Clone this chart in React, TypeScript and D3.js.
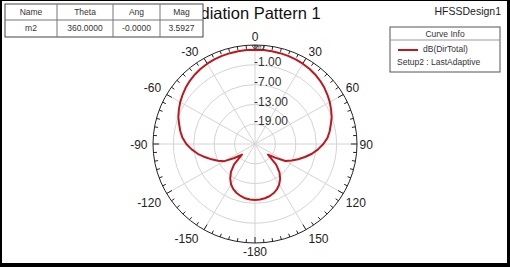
// App.tsx
import React, { useEffect, useRef } from 'react';
import * as d3 from 'd3';

const thetaDeg = [
  -180, -175, -170, -165, -160, -155, -150, -145, -140, -135, -130, -125, -120, -115, -110, -105, -100, -95,
  -90, -85, -80, -75, -70, -65, -60, -55, -50, -45, -40, -35, -30, -25, -20, -15, -10, -5,
  0, 5, 10, 15, 20, 25, 30, 35, 40, 45, 50, 55, 60, 65, 70, 75, 80, 85,
  90, 95, 100, 105, 110, 115, 120, 125, 130, 135, 140, 145, 150, 155, 160, 165, 170, 175, 180,
];

const dirTotalDb = [
  -8.0, -8.1, -8.3, -8.7, -9.2, -9.9, -10.9, -12.3, -14.0, -16.3, -20.0, -17.6, -14.6, -13.0, -11.4, -9.7, -7.9, -6.3,
  -4.8, -3.6, -2.7, -1.9, -1.0, -0.3, 0.4, 1.0, 1.6, 2.1, 2.5, 2.85, 3.1, 3.3, 3.42, 3.5, 3.55, 3.58,
  3.59, 3.58, 3.55, 3.5, 3.42, 3.3, 3.1, 2.85, 2.5, 2.1, 1.6, 1.0, 0.4, -0.3, -1.0, -1.9, -2.7, -3.6,
  -4.9, -6.4, -8.0, -9.8, -11.5, -13.1, -14.7, -17.8, -20.0, -16.2, -13.8, -12.1, -10.8, -9.8, -9.1, -8.6, -8.3, -8.1, -8.0,
];

const radialTicks = [-19, -13, -7, -1];
const angleTicks = [0, 30, 60, 90, 120, 150, 180, -150, -120, -90, -60, -30];
const angleLabels = ['0', '30', '60', '90', '120', '150', '-180', '-150', '-120', '-90', '-60', '-30'];

const tableHead = ['Name', 'Theta', 'Ang', 'Mag'];
const tableRow = ['m2', '360.0000', '-0.0000', '3.5927'];

const W = 510;
const H = 267;
const FONT = 'Liberation Sans, Arial, sans-serif';
const RED = '#c0171c';

const App: React.FC = () => {
  const svgRef = useRef<SVGSVGElement | null>(null);

  useEffect(() => {
    if (!svgRef.current) return;
    const svg = d3.select(svgRef.current);
    svg.selectAll('*').remove();

    const cx = 255;
    const cy = 144;
    const rx = 102;
    const ry = 99;

    const r = d3.scaleLinear().domain([-25, 5]).range([0, 1]);
    const px = (deg: number, n: number) => cx + rx * n * Math.sin((deg * Math.PI) / 180);
    const py = (deg: number, n: number) => cy - ry * n * Math.cos((deg * Math.PI) / 180);

    svg.append('rect').attr('width', W).attr('height', H).attr('fill', '#fff');

    // title sits behind the marker table, like the HFSS plot
    svg
      .append('text')
      .attr('x', 250)
      .attr('y', 19)
      .attr('text-anchor', 'middle')
      .attr('font-size', 16.5)
      .attr('fill', '#111')
      .text('Radiation Pattern 1');

    svg
      .append('text')
      .attr('x', 501)
      .attr('y', 15)
      .attr('text-anchor', 'end')
      .attr('font-size', 10.5)
      .attr('fill', '#222')
      .text('HFSSDesign1');

    // grid
    const grid = svg.append('g');
    radialTicks.forEach((v) => {
      grid
        .append('ellipse')
        .attr('cx', cx)
        .attr('cy', cy)
        .attr('rx', rx * r(v))
        .attr('ry', ry * r(v))
        .attr('fill', 'none')
        .attr('stroke', '#d4d4d4')
        .attr('stroke-width', 1);
    });
    angleTicks.forEach((a) => {
      grid
        .append('line')
        .attr('x1', cx)
        .attr('y1', cy)
        .attr('x2', px(a, 1))
        .attr('y2', py(a, 1))
        .attr('stroke', '#d4d4d4')
        .attr('stroke-width', 1);
    });

    // outer ring + ticks
    grid
      .append('ellipse')
      .attr('cx', cx)
      .attr('cy', cy)
      .attr('rx', rx)
      .attr('ry', ry)
      .attr('fill', 'none')
      .attr('stroke', '#222')
      .attr('stroke-width', 1);
    d3.range(0, 360, 5).forEach((a) => {
      const len = a % 30 === 0 ? 0.06 : 0.035;
      grid
        .append('line')
        .attr('x1', px(a, 1))
        .attr('y1', py(a, 1))
        .attr('x2', px(a, 1 - len))
        .attr('y2', py(a, 1 - len))
        .attr('stroke', '#222')
        .attr('stroke-width', 1);
    });

    // angle labels: hang off the ring, left side right-aligned
    angleTicks.forEach((a, i) => {
      const s = Math.sin((a * Math.PI) / 180);
      const c = Math.cos((a * Math.PI) / 180);
      let anchor = 'middle';
      let x = px(a, 1);
      if (s > 0.1) {
        anchor = 'start';
        x += 2.5;
      } else if (s < -0.1) {
        anchor = 'end';
        x -= 5.5;
      }
      let dy = c > 0.1 ? -6.5 : c < -0.1 ? 9 : 1;
      if (a === 0) dy = -8;
      svg
        .append('text')
        .attr('x', x)
        .attr('y', py(a, 1) + dy)
        .attr('dy', '0.35em')
        .attr('text-anchor', anchor)
        .attr('font-size', 12)
        .attr('fill', '#222')
        .text(angleLabels[i]);
    });

    radialTicks.forEach((v) => {
      svg
        .append('text')
        .attr('x', cx - 1)
        .attr('y', py(0, r(v)) - 3)
        .attr('dy', '0.35em')
        .attr('font-size', 12)
        .attr('fill', '#333')
        .text(v.toFixed(2));
    });

    // curve
    const pts: [number, number][] = thetaDeg.map((t, i) => [px(t, r(dirTotalDb[i])), py(t, r(dirTotalDb[i]))]);
    svg
      .append('path')
      .attr('d', d3.line()(pts))
      .attr('fill', 'none')
      .attr('stroke', RED)
      .attr('stroke-width', 2)
      .attr('stroke-linejoin', 'round');

    // marker m2
    const mx = px(0, r(3.5927));
    const my = py(0, r(3.5927));
    svg
      .append('path')
      .attr('d', `M${mx - 3},${my - 4}L${mx + 3},${my - 4}L${mx},${my}Z`)
      .attr('fill', 'none')
      .attr('stroke', '#333')
      .attr('stroke-width', 0.8);
    svg
      .append('text')
      .attr('x', mx + 1)
      .attr('y', my)
      .attr('font-size', 6.5)
      .attr('fill', '#333')
      .text('m2');

    // marker table
    const colX = [5, 57, 113, 160, 203];
    const rowY = [4, 20, 37];
    const tbl = svg.append('g');
    tbl
      .append('rect')
      .attr('x', colX[0])
      .attr('y', rowY[0])
      .attr('width', colX[4] - colX[0])
      .attr('height', rowY[2] - rowY[0])
      .attr('fill', '#fff')
      .attr('stroke', '#444');
    tbl.append('line').attr('x1', colX[0]).attr('x2', colX[4]).attr('y1', rowY[1]).attr('y2', rowY[1]).attr('stroke', '#777');
    colX.slice(1, 4).forEach((x) => {
      tbl.append('line').attr('x1', x).attr('x2', x).attr('y1', rowY[0]).attr('y2', rowY[2]).attr('stroke', '#777');
    });
    [tableHead, tableRow].forEach((row, ri) => {
      row.forEach((s, ci) => {
        tbl
          .append('text')
          .attr('x', (colX[ci] + colX[ci + 1]) / 2)
          .attr('y', (rowY[ri] + rowY[ri + 1]) / 2)
          .attr('dy', '0.35em')
          .attr('text-anchor', 'middle')
          .attr('font-size', 8.5)
          .attr('fill', '#333')
          .text(s);
      });
    });

    // legend
    const lg = svg.append('g');
    lg.append('rect').attr('x', 390).attr('y', 27).attr('width', 110).attr('height', 45).attr('fill', '#fff').attr('stroke', '#555');
    lg.append('line').attr('x1', 390).attr('x2', 500).attr('y1', 40).attr('y2', 40).attr('stroke', '#999');
    lg.append('text').attr('x', 445).attr('y', 34).attr('dy', '0.35em').attr('text-anchor', 'middle').attr('font-size', 8.5).attr('fill', '#333').text('Curve Info');
    lg.append('line').attr('x1', 398).attr('x2', 418).attr('y1', 50).attr('y2', 50).attr('stroke', RED).attr('stroke-width', 2);
    lg.append('text').attr('x', 423).attr('y', 49).attr('dy', '0.35em').attr('font-size', 8.5).attr('fill', '#333').text('dB(DirTotal)');
    lg.append('text').attr('x', 397).attr('y', 62).attr('dy', '0.35em').attr('font-size', 8.5).attr('fill', '#333').text('Setup2 : LastAdaptive');

    // image frame
    svg.append('rect').attr('x', 0).attr('y', 0).attr('width', 2).attr('height', H).attr('fill', '#000');
    svg.append('rect').attr('x', 0).attr('y', 0).attr('width', W).attr('height', 1).attr('fill', '#000');
    svg.append('rect').attr('x', 507).attr('y', 0).attr('width', 3).attr('height', H).attr('fill', '#000');
    svg.append('rect').attr('x', 0).attr('y', 263).attr('width', W).attr('height', 4).attr('fill', '#000');
  }, []);

  return (
    <svg
      ref={svgRef}
      width={W}
      height={H}
      style={{ position: 'absolute', left: 0, top: 0, fontFamily: FONT }}
    />
  );
};

export default App;
